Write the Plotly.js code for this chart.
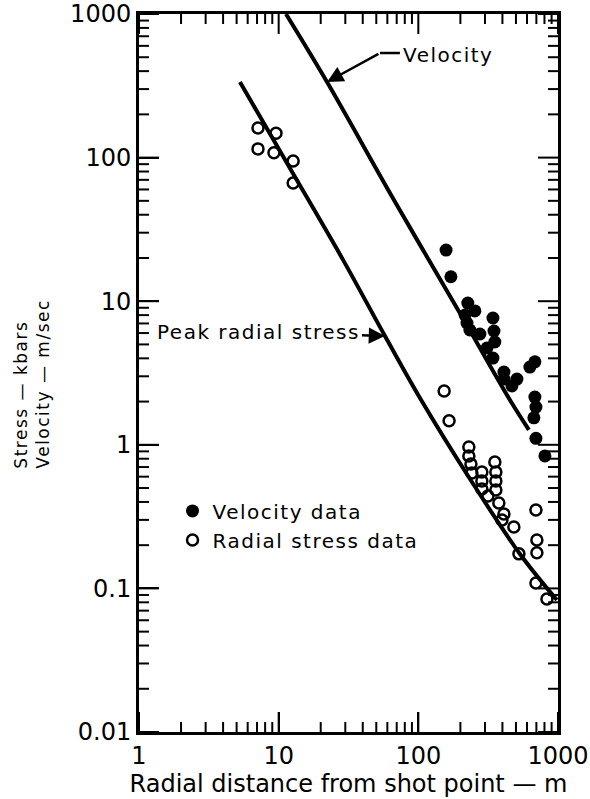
<!DOCTYPE html>
<html>
<head>
<meta charset="utf-8">
<script src="https://cdn.plot.ly/plotly-3.0.1.min.js"></script>
<style>
  html, body { margin: 0; padding: 0; background: #fff; }
  #chart { width: 590px; height: 799px; }
  .legendtext, .annotation-text { letter-spacing: 1.5px; }
</style>
</head>
<body>
<div id="chart"></div>
<script>
// ---- data ----
// Velocity data (filled circles): radial distance (m), particle velocity (m/sec)
const velDist = [158, 171, 226, 254, 216, 223, 234, 276, 342, 348, 353, 310, 342, 410, 410, 508, 468, 629, 683, 683, 695, 672, 695, 806];
const velData = [22.7, 14.8, 9.71, 8.55, 8.01, 7.05, 6.3, 5.91, 7.64, 6.2, 5.2, 4.72, 4.02, 3.21, 2.87, 2.87, 2.57, 3.48, 3.78, 2.15, 1.83, 1.54, 1.11, 0.836];

// Radial stress data (open circles): radial distance (m), stress (kbars)
const stressDist = [7.11, 9.57, 7.11, 9.25, 12.7, 12.7, 153, 166, 230, 230, 238, 242, 285, 285, 285, 353, 359, 359, 359, 315, 377, 410, 397, 483, 525, 695, 706, 706, 695, 833];
const stressData = [161, 148, 115, 108, 94.7, 66.5, 2.37, 1.47, 0.966, 0.836, 0.735, 0.637, 0.647, 0.56, 0.492, 0.759, 0.647, 0.56, 0.484, 0.44, 0.393, 0.33, 0.299, 0.268, 0.174, 0.352, 0.217, 0.177, 0.109, 0.0844];

// Fitted curves
const velCurveDist = [11.28, 22.2, 66.9, 212, 453, 619];
const velCurve = [1000, 336, 50.7, 7.4, 2.05, 1.27];
const stressCurveDist = [5.28, 12.25, 28.9, 57.7, 102.7, 242, 534, 982];
const stressCurve = [336, 81.9, 19.4, 5.72, 2.12, 0.551, 0.1737, 0.083];

// Tick labels
const xTickVals = [1, 10, 100, 1000];
const xTickText = ['1', '10', '100', '1000'];
const yTickVals = [0.01, 0.1, 1, 10, 100, 1000];
const yTickText = ['0.01', '0.1', '1', '10', '100', '1000'];

// Other text
const xTitle = 'Radial distance from shot point — m';
const yTitleLines = ['Stress — kbars', 'Velocity — m/sec'];
const velName = 'Velocity data';
const stressName = 'Radial stress data';
const velCurveLabel = 'Velocity';
const stressCurveLabel = 'Peak radial stress';

const FONT = 'DejaVu Sans';
const L = Math.log10;

const W = 590, H = 799;
const M = {l: 139, r: 32, t: 14, b: 67};
const PW = W - M.l - M.r, PH = H - M.t - M.b;
const X_RANGE = [0, 3], Y_RANGE = [-2, 3];
const PX_PER_DEC_Y = PH / (Y_RANGE[1] - Y_RANGE[0]);

// minor tick positions 2..9 in each decade
function minorVals(lo, hi) {
  const v = [];
  for (let e = lo; e < hi; e++) for (let m = 2; m <= 9; m++) v.push(m * Math.pow(10, e));
  return v;
}

// vertical inward tick segments on the bottom and top axes, as one line trace
function xTickTrace(vals, len) {
  const yLo = Math.pow(10, Y_RANGE[0]), yHi = Math.pow(10, Y_RANGE[1]);
  const k = Math.pow(10, len / PX_PER_DEC_Y);
  const xs = [], ys = [];
  vals.forEach(v => {
    xs.push(v, v, null, v, v, null);
    ys.push(yLo, yLo * k, null, yHi / k, yHi, null);
  });
  return {x: xs, y: ys, mode: 'lines', type: 'scatter', connectgaps: false,
          line: {color: '#000', width: 2}, showlegend: false, hoverinfo: 'skip'};
}

// horizontal inward ticks on the left and right axes
function yTickShapes(vals, len) {
  const s = [];
  const st = {color: '#000', width: 2};
  const fx = len / PW;
  vals.forEach(v => {
    s.push({type: 'line', xref: 'x domain', yref: 'y', y0: v, y1: v, x0: 0, x1: fx, line: st});
    s.push({type: 'line', xref: 'x domain', yref: 'y', y0: v, y1: v, x0: 1, x1: 1 - fx, line: st});
  });
  return s;
}

const traces = [
  xTickTrace(xTickVals, 20),
  xTickTrace(minorVals(0, 3), 10),
  {
    x: velCurveDist, y: velCurve, mode: 'lines', type: 'scatter',
    line: {color: '#000', width: 4, shape: 'spline', smoothing: 1},
    showlegend: false, hoverinfo: 'skip'
  },
  {
    x: stressCurveDist, y: stressCurve, mode: 'lines', type: 'scatter',
    line: {color: '#000', width: 4, shape: 'spline', smoothing: 1},
    showlegend: false, hoverinfo: 'skip'
  },
  {
    x: velDist, y: velData, mode: 'markers', type: 'scatter', name: velName,
    marker: {symbol: 'circle', size: 13, color: '#000'}
  },
  {
    x: stressDist, y: stressData, mode: 'markers', type: 'scatter', name: stressName,
    marker: {symbol: 'circle-open', size: 11, color: '#000', line: {width: 2.5, color: '#000'}}
  }
];

const tickFont = {family: FONT, size: 24, color: '#000'};

function axis(range, vals, text, extra) {
  return Object.assign({
    type: 'log',
    range: range,
    showgrid: false, zeroline: false,
    showline: true, linecolor: '#000', linewidth: 3, mirror: true,
    ticks: 'inside', ticklen: 20, tickwidth: 2, tickcolor: '#000',
    tickmode: 'array', tickvals: vals, ticktext: text, tickfont: tickFont,
    fixedrange: true
  }, extra || {});
}

const layout = {
  width: W, height: H,
  margin: M,
  paper_bgcolor: '#fff', plot_bgcolor: '#fff',
  font: {family: FONT, color: '#000'},
  xaxis: axis(X_RANGE, xTickVals, xTickText, {
    title: {text: xTitle, font: {family: FONT, size: 24, color: '#000'}, standoff: 6}
  }),
  yaxis: axis(Y_RANGE, yTickVals, yTickText),
  showlegend: true,
  legend: {
    x: 0.08, y: 0.335, xanchor: 'left', yanchor: 'top',
    bgcolor: 'rgba(0,0,0,0)', borderwidth: 0,
    font: {family: FONT, size: 20, color: '#000'},
    tracegroupgap: 0
  },
  shapes: [].concat(
    yTickShapes(yTickVals, 20),
    yTickShapes(minorVals(-2, 3), 10),
    [{type: 'line', xref: 'x', yref: 'y', x0: 53.1, x1: 73.8, y0: 535, y1: 535,
      line: {color: '#000', width: 2.5}}]
  ),
  annotations: [
    {xref: 'x', yref: 'y', x: 1.876, y: 2.714, text: velCurveLabel, showarrow: false,
     xanchor: 'left', yanchor: 'middle', font: {family: FONT, size: 20, color: '#000'}},
    {xref: 'x', yref: 'y', x: L(22.2), y: L(336), axref: 'x', ayref: 'y',
     ax: 1.725, ay: 2.728, text: '', showarrow: true,
     arrowhead: 2, arrowsize: 1.3, arrowwidth: 2.5, arrowcolor: '#000'},
    {xref: 'x', yref: 'y', x: L(57.7), y: L(5.72), ax: -126, ay: -4,
     text: stressCurveLabel, showarrow: true, arrowhead: 2, arrowsize: 1.3, arrowwidth: 2.5,
     arrowcolor: '#000', font: {family: FONT, size: 20, color: '#000'}},
    {xref: 'paper', yref: 'paper', x: -0.255, y: 0.484, textangle: -90,
     text: yTitleLines.join('<br>'), showarrow: false, align: 'left',
     xanchor: 'center', yanchor: 'middle',
     font: {family: FONT, size: 17, color: '#000'}}
  ]
};

Plotly.newPlot('chart', traces, layout, {displayModeBar: false, staticPlot: true});
</script>
</body>
</html>
